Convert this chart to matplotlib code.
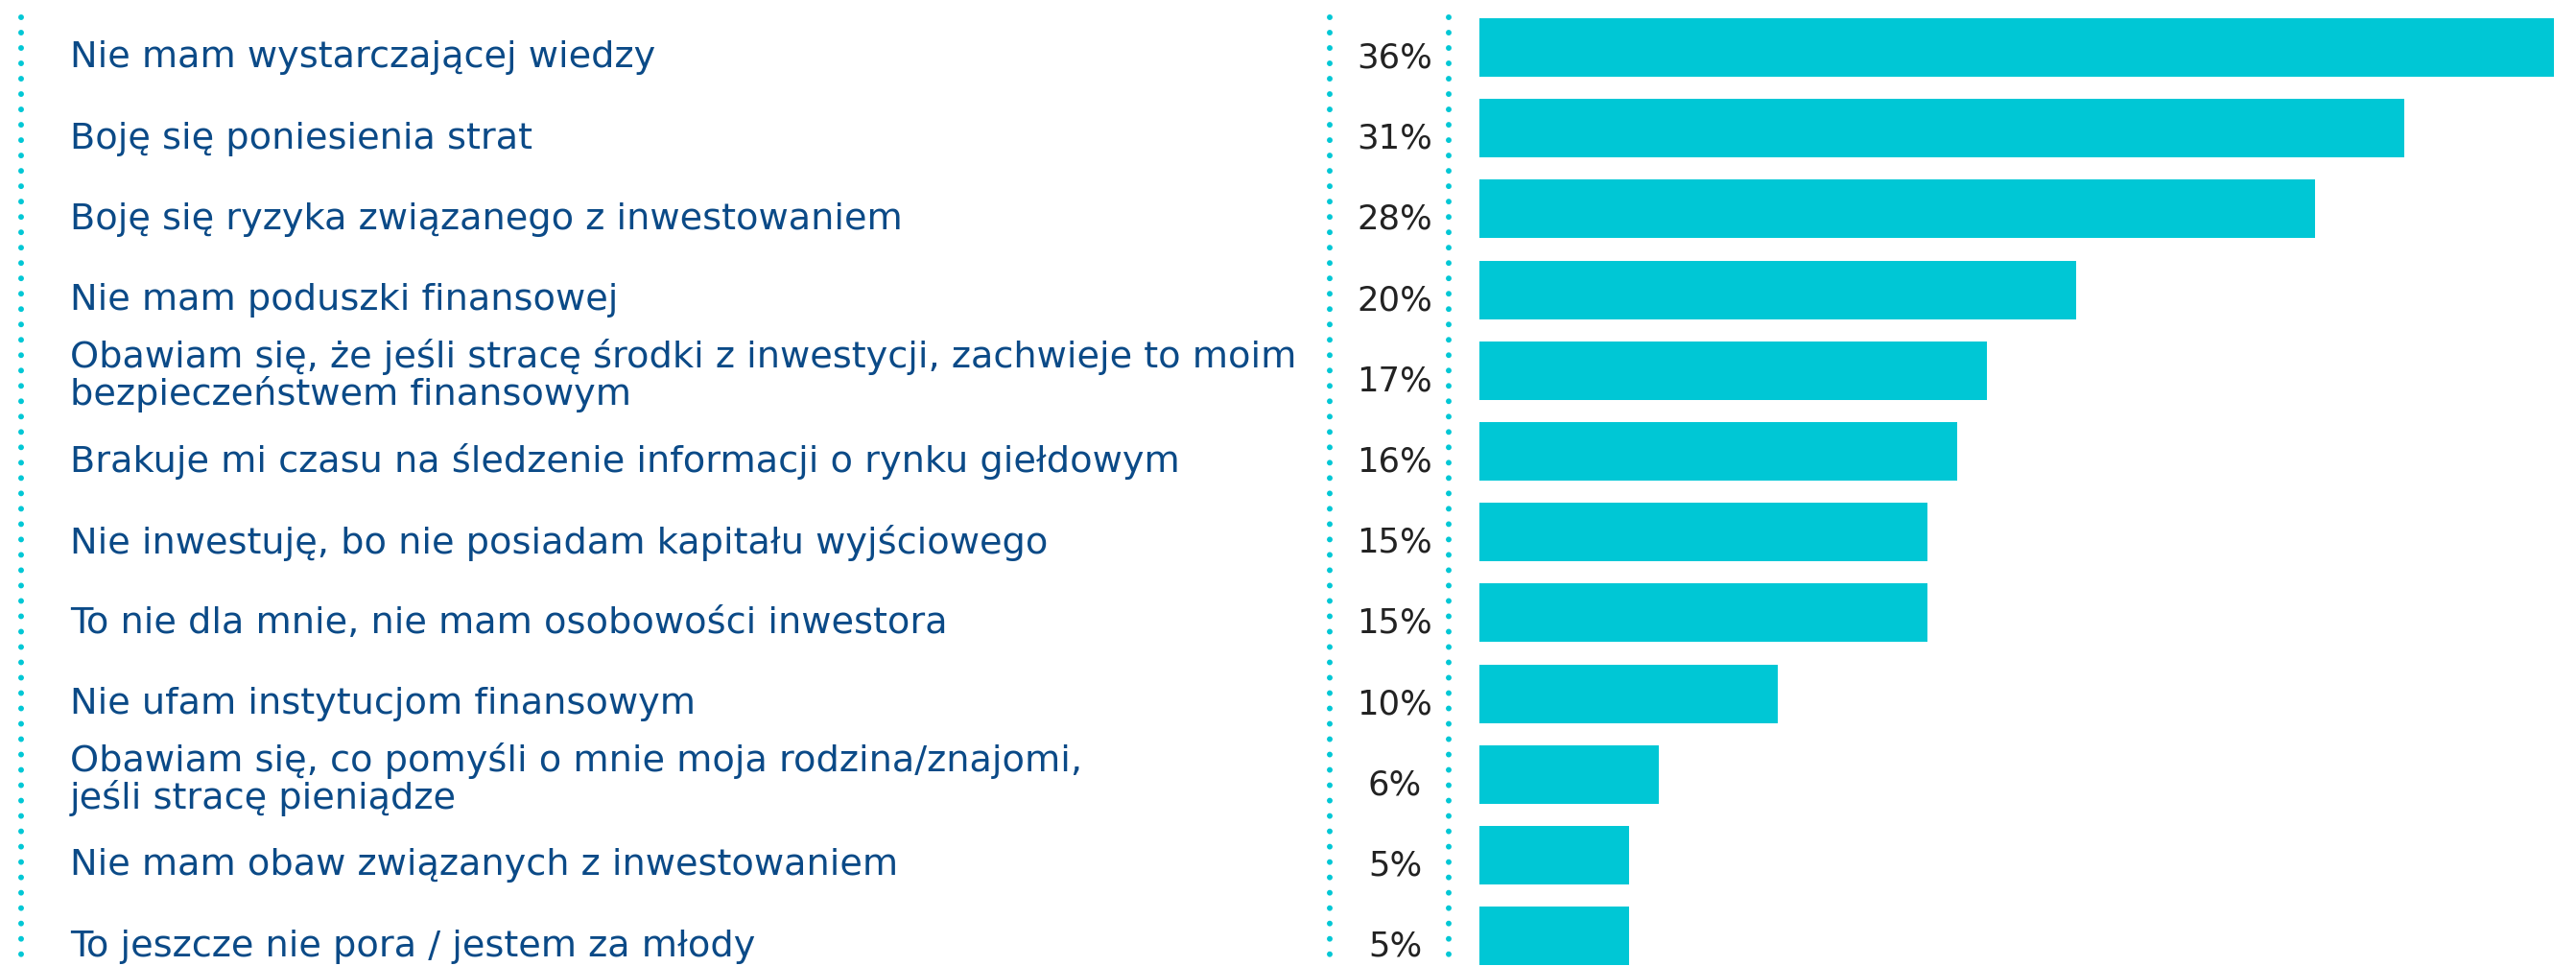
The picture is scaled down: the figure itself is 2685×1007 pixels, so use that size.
import matplotlib
matplotlib.use("Agg")
import matplotlib.pyplot as plt
from matplotlib.lines import Line2D
from matplotlib.transforms import blended_transform_factory

categories = [
    "Nie mam wystarczającej wiedzy",
    "Boję się poniesienia strat",
    "Boję się ryzyka związanego z inwestowaniem",
    "Nie mam poduszki finansowej",
    "Obawiam się, że jeśli stracę środki z inwestycji, zachwieje to moim\nbezpieczeństwem finansowym",
    "Brakuje mi czasu na śledzenie informacji o rynku giełdowym",
    "Nie inwestuję, bo nie posiadam kapitału wyjściowego",
    "To nie dla mnie, nie mam osobowości inwestora",
    "Nie ufam instytucjom finansowym",
    "Obawiam się, co pomyśli o mnie moja rodzina/znajomi,\njeśli stracę pieniądze",
    "Nie mam obaw związanych z inwestowaniem",
    "To jeszcze nie pora / jestem za młody",
]
values = [36, 31, 28, 20, 17, 16, 15, 15, 10, 6, 5, 5]
value_labels = [f"{v}%" for v in values]

BAR = "#00C7D5"
TXT = "#0B4A87"
PCT = "#222222"
FONT = ["DejaVu Sans"]

W, H = 2685, 1007
fig = plt.figure(figsize=(W / 100, H / 100), dpi=100)
fig.patch.set_facecolor("white")

# bar axes
ax = fig.add_axes([1542 / W, 0, 1 - 1542 / W, 1])
step = 84.2
c0 = 49.5
ax.set_ylim((H - c0) / step, -c0 / step)
ax.set_xlim(0, (W - 1542) / 31.11)
ypos = list(range(len(values)))
ax.barh(ypos, values, height=61 / step, color=BAR, left=0)
ax.axis("off")

tr = blended_transform_factory(fig.transFigure, ax.transData)
for i, (cat, lab) in enumerate(zip(categories, value_labels)):
    off = 0.06 if "\n" in cat else 0.13
    ax.text(73 / W, i + off, cat, transform=tr, ha="left", va="center",
            fontsize=27.5, color=TXT, family=FONT, linespacing=1.03)
    ax.text(1454 / W, i + 0.13, lab, transform=tr, ha="center", va="center",
            fontsize=25.5, color=PCT, family=FONT)

# dotted vertical lines
for xpx in (22, 1386, 1510):
    ln = Line2D([xpx / W, xpx / W], [1 - 18 / H, 0], transform=fig.transFigure,
                color=BAR, linewidth=4.3, linestyle=(0, (0.001, 2.68)),
                dash_capstyle="round")
    fig.add_artist(ln)

fig.savefig("out.png", dpi=100, facecolor="white")
